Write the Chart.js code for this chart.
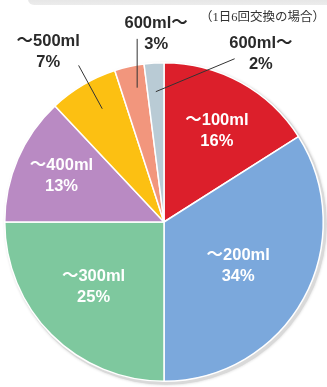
<!DOCTYPE html>
<html>
<head>
<meta charset="utf-8">
<script src="https://cdn.jsdelivr.net/npm/chart.js@4"></script>
<style>
  html, body { margin: 0; padding: 0; background: #ffffff; }
  #wrap { position: relative; width: 327px; height: 387px; overflow: hidden; }
  #banner { position: absolute; left: 28px; top: -8px; width: 320px; height: 13px;
            background: linear-gradient(#dedede, #ececec); border-radius: 6px; }
  #note { position: absolute; left: 200px; top: 6px; width: 124px; text-align: center;
          font-family: "Liberation Serif", "Noto Sans CJK JP", serif; font-size: 12.5px; color: #333; white-space: nowrap; }
  canvas { position: absolute; left: 0; top: 0; }
</style>
</head>
<body>
<div id="wrap">
  <div id="banner"></div>
  <canvas id="c" width="327" height="387"></canvas>
  <div id="note">（1日6回交換の場合）</div>
</div>
<script>
// ---- data ----
const categories = ['～100ml', '～200ml', '～300ml', '～400ml', '～500ml', '600ml～', '600ml～'];
const percents = [16, 34, 25, 13, 7, 3, 2];
const percentLabels = ['16%', '34%', '25%', '13%', '7%', '3%', '2%'];
const sliceColors = ['#dc1f2b', '#7ba8dc', '#7ec89e', '#b98ac3', '#fcc012', '#f2967d', '#b9cbd5'];

// ---- label layout (polar, relative to each slice's mid angle) ----
const labelLayout = [
  { inside: true, dAng: 1.4, r: 0.66 },
  { inside: true, dAng: 1.6, r: 0.54 },
  { inside: true, dAng: 2.5, r: 0.60 },
  { inside: true, dAng: 0.7, r: 0.705 },
  { inside: false, dAng: -3.7, r: 1.29, line: { type: 'radial', dAng: 2, r0: 0.81, r1: 1.12 } },
  { inside: false, dAng: 10.2, r: 1.18, line: { type: 'vertical', dAng: 1.3, r0: 0.86, yTop: 1.15 } },
  { inside: false, dAng: 33.5, r: 1.22, line: { type: 'point', dAng0: 0, r0: 0.82, dAng1: 27, r1: 1.117 } }
];

const deg = Math.PI / 180;
function polar(cx, cy, ang, r) { return [cx + Math.cos(ang) * r, cy + Math.sin(ang) * r]; }

const shadowPlugin = {
  id: 'shadow',
  beforeDatasetsDraw(chart) {
    const el = chart.getDatasetMeta(0).data[0];
    if (!el) return;
    const { x, y, outerRadius } = el.getProps(['x', 'y', 'outerRadius'], true);
    const ctx = chart.ctx;
    ctx.save();
    ctx.fillStyle = '#d9d9d9';
    ctx.shadowColor = 'rgba(0,0,0,0.18)';
    ctx.shadowBlur = 3;
    ctx.beginPath();
    ctx.arc(x + 2, y + 2, outerRadius + 1.5, 0, Math.PI * 2);
    ctx.fill();
    ctx.restore();
  }
};

const labelPlugin = {
  id: 'sliceLabels',
  afterDatasetsDraw(chart) {
    const ctx = chart.ctx;
    const meta = chart.getDatasetMeta(0);
    ctx.save();
    ctx.textAlign = 'center';
    ctx.textBaseline = 'middle';
    ctx.font = 'bold 16.5px "Liberation Sans", Arial, "Noto Sans CJK JP", sans-serif';
    meta.data.forEach((el, i) => {
      const { x, y, startAngle, endAngle, outerRadius } =
        el.getProps(['x', 'y', 'startAngle', 'endAngle', 'outerRadius'], true);
      const mid = (startAngle + endAngle) / 2;
      const L = labelLayout[i];
      const R = outerRadius;
      if (L.line) {
        ctx.strokeStyle = '#333';
        ctx.lineWidth = 1;
        ctx.beginPath();
        if (L.line.type === 'radial') {
          const a = mid + L.line.dAng * deg;
          const p0 = polar(x, y, a, L.line.r0 * R), p1 = polar(x, y, a, L.line.r1 * R);
          ctx.moveTo(p0[0], p0[1]); ctx.lineTo(p1[0], p1[1]);
        } else if (L.line.type === 'vertical') {
          const p0 = polar(x, y, mid + L.line.dAng * deg, L.line.r0 * R);
          ctx.moveTo(p0[0], p0[1]); ctx.lineTo(p0[0], y - L.line.yTop * R);
        } else {
          const p0 = polar(x, y, mid + L.line.dAng0 * deg, L.line.r0 * R);
          const p1 = polar(x, y, mid + L.line.dAng1 * deg, L.line.r1 * R);
          ctx.moveTo(p0[0], p0[1]); ctx.lineTo(p1[0], p1[1]);
        }
        ctx.stroke();
      }
      const p = polar(x, y, mid + L.dAng * deg, L.r * R);
      ctx.fillStyle = L.inside ? '#ffffff' : '#2a2a2a';
      ctx.fillText(categories[i], p[0], p[1] - 10.5);
      ctx.fillText(percentLabels[i], p[0], p[1] + 10.5);
    });
    ctx.restore();
  }
};

new Chart(document.getElementById('c'), {
  type: 'pie',
  data: {
    labels: categories,
    datasets: [{
      data: percents,
      backgroundColor: sliceColors,
      borderColor: '#ffffff',
      borderWidth: 1.5
    }]
  },
  options: {
    responsive: false,
    animation: false,
    layout: { padding: { left: 4, right: 3, top: 62, bottom: 5 } },
    plugins: { legend: { display: false }, tooltip: { enabled: false } }
  },
  plugins: [shadowPlugin, labelPlugin]
});
</script>
</body>
</html>
